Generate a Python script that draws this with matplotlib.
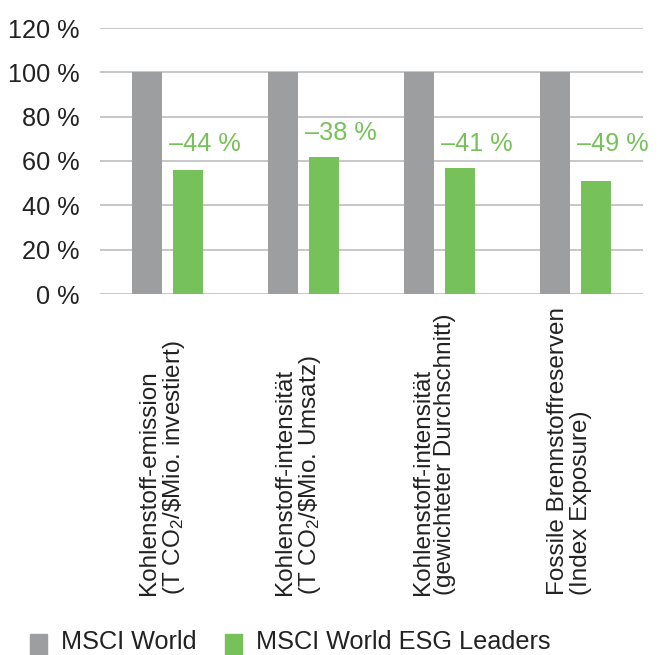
import matplotlib.pyplot as plt
import matplotlib.transforms as mtransforms
from matplotlib.patches import Rectangle
import numpy as np

plt.rcParams['font.family'] = ['Liberation Sans', 'DejaVu Sans']
plt.rcParams['mathtext.default'] = 'regular'

categories = [
    "Kohlenstoff-emission\n(T CO$_2$/\\$Mio. investiert)",
    "Kohlenstoff-intensität\n(T CO$_2$/\\$Mio. Umsatz)",
    "Kohlenstoff-intensität\n(gewichteter Durchschnitt)",
    "Fossile Brennstoffreserven\n(Index Exposure)",
]
msci_world = [100, 100, 100, 100]
esg_leaders = [56, 62, 57, 51]
changes = ["–44 %", "–38 %", "–41 %", "–49 %"]
series_names = ["MSCI World", "MSCI World ESG Leaders"]

grey = "#9d9ea0"
green = "#76c159"
txt = "#222222"
fs = 18.2

fig = plt.figure(figsize=(6.61, 6.55), dpi=100)
ax = fig.add_axes([100/661, 1-294/655, 543/661, 266/655])

x = np.arange(len(categories))
w = 0.221
off = 0.151
ax.bar(x - off, msci_world, w, color=grey, zorder=3)
ax.bar(x + off, esg_leaders, w, color=green, zorder=3)

for i, (v, lab) in enumerate(zip(esg_leaders, changes)):
    ax.text(x[i] + off - w/2 - 0.03, max(v, 57) + 10.5, lab, color=green,
            fontsize=fs, ha='left', va='center')

ax.set_xlim(-0.5, 3.5)
ax.set_ylim(0, 120)
ax.set_yticks(range(0, 121, 20))
ax.set_yticklabels([f"{t} %" for t in range(0, 121, 20)])
ax.tick_params(axis='y', length=0, pad=14.4, labelsize=fs, labelcolor=txt)
ax.set_xticks([])
ax.grid(axis='y', color='#bdbdbd', linewidth=1.2, zorder=0)
for s in ax.spines.values():
    s.set_visible(False)

trans = mtransforms.blended_transform_factory(ax.transData, fig.transFigure)
for i, c in enumerate(categories):
    ax.text(x[i] - 0.04, 60/655, c, transform=trans, rotation=90,
            ha='center', va='bottom', multialignment='left',
            fontsize=17.5, color=txt, linespacing=1.05, clip_on=False)

# legend along the bottom edge
fig.patches.append(Rectangle((30/661, 0), 17/661, 21/655, color=grey,
                             transform=fig.transFigure, figure=fig))
fig.text(61/661, 6/655, series_names[0], fontsize=fs, color=txt, va='baseline')
fig.patches.append(Rectangle((225/661, 0), 17/661, 21/655, color=green,
                             transform=fig.transFigure, figure=fig))
fig.text(256/661, 6/655, series_names[1], fontsize=fs, color=txt, va='baseline')

fig.savefig("out.png", dpi=100)
